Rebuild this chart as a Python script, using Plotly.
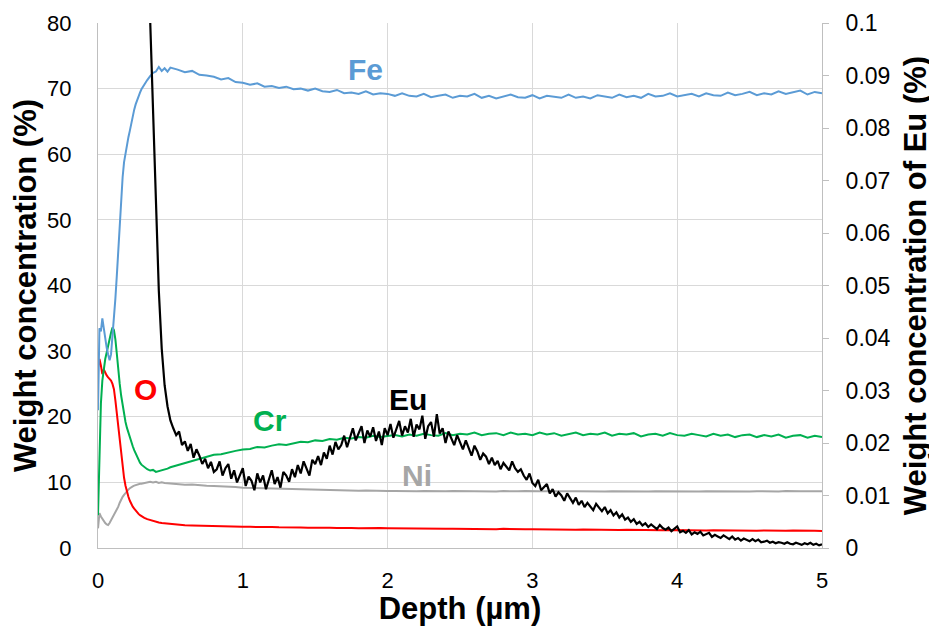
import numpy as np
import plotly.graph_objects as go

# ---- depth grids (µm) ----
depth = np.round(np.concatenate([
    np.arange(0.0, 0.305, 0.01),
    np.arange(0.32, 0.505, 0.02),
    np.arange(0.55, 5.001, 0.05),
]), 2)

# ---- Fe (wt%) ----
fe_head = [21.0, 33.5, 33.0, 35.0, 33.5, 31.6, 30.5, 29.5, 28.6, 29.5,
           32.0, 34.5, 38.0, 41.5, 45.5, 50.0, 53.5, 56.5, 58.8, 60.3,
           61.5, 62.6, 63.6, 64.8, 66.0, 66.8, 67.6, 68.3, 68.9, 69.4, 69.9,
           70.7, 71.3, 71.9, 72.4, 72.6, 73.3, 72.7, 73.1, 72.6, 73.2]
fe_tail = [72.9, 72.5, 72.7, 72.1, 72.0, 71.8, 71.4, 71.6, 71.0, 70.9,
           70.6, 70.8, 70.3, 70.4, 70.1, 70.3, 69.9, 70.0, 69.7, 70.0,
           69.6, 69.5, 69.8, 69.3, 69.4, 69.2, 69.6, 69.1, 69.3, 69.2,
           68.9, 69.3, 68.9, 68.8, 69.2, 68.7, 68.9, 69.1, 68.6, 68.9,
           68.8, 69.2, 68.6, 68.9, 68.5, 68.8, 69.1, 68.7, 68.6, 69.0,
           68.5, 68.9, 68.7, 68.6, 69.1, 68.6, 68.8, 68.5, 69.0, 68.8,
           68.6, 69.1, 68.7, 68.9, 68.6, 69.2, 68.8, 68.9, 69.3, 68.8,
           69.0, 69.2, 68.8, 69.3, 69.0, 68.9, 69.4, 69.0, 69.2, 69.5,
           69.0, 69.3, 69.1, 69.6, 69.2, 69.4, 69.7, 69.1, 69.5, 69.3]

# ---- Cr (wt%) ----
cr_head = [5.0, 15.0, 22.0, 25.5, 27.5, 28.8, 29.8, 30.6, 31.8, 32.8,
           33.6, 33.2, 31.8, 29.6, 27.0, 25.0, 23.2, 21.6, 20.3, 19.2,
           18.3, 17.5, 16.7, 16.1, 15.5, 14.9, 14.4, 13.9, 13.4, 13.0, 12.7,
           12.3, 12.0, 11.8, 11.9, 11.6, 11.7, 11.8, 12.0, 12.1, 12.3]
cr_tail = [12.6, 12.9, 13.2, 13.6, 13.8, 14.2, 14.3, 14.6, 14.8, 15.0,
           15.1, 15.4, 15.3, 15.6, 15.8, 15.7, 16.0, 16.2, 16.1, 16.4,
           16.3, 16.6, 16.5, 16.8, 16.7, 16.9, 16.8, 17.1, 16.9, 17.0,
           17.2, 17.0, 17.3, 17.1, 17.4, 17.2, 17.1, 17.5, 17.2, 17.4,
           17.3, 17.6, 17.2, 17.4, 17.5, 17.2, 17.6, 17.3, 17.4, 17.2,
           17.6, 17.3, 17.5, 17.1, 17.4, 17.6, 17.2, 17.4, 17.3, 17.6,
           17.1, 17.4, 17.3, 17.5, 17.0, 17.3, 17.4, 17.1, 17.5, 17.2,
           17.1, 17.4, 17.2, 17.0, 17.4, 17.1, 17.3, 16.9, 17.2, 17.3,
           16.9, 17.2, 17.0, 17.3, 16.8, 17.1, 17.2, 16.8, 17.1, 16.9]

# ---- O (wt%) ----
o_head = [27.5, 28.8, 27.8, 26.5, 27.2, 26.6, 26.3, 26.0, 25.8, 25.5,
          25.0, 24.2, 22.5, 20.5, 18.0, 15.8, 14.0, 12.2, 10.7, 9.5,
          8.5, 7.8, 7.2, 6.7, 6.3, 6.0, 5.7, 5.4, 5.2, 5.0, 4.85,
          4.6, 4.4, 4.25, 4.1, 4.0, 3.9, 3.8, 3.75, 3.7, 3.6]
o_tail = [3.5, 3.45, 3.42, 3.38, 3.4, 3.33, 3.3, 3.32, 3.26, 3.24,
          3.22, 3.25, 3.18, 3.2, 3.15, 3.17, 3.12, 3.14, 3.1, 3.12,
          3.07, 3.1, 3.05, 3.08, 3.04, 3.02, 3.06, 3.0, 3.03, 3.0,
          2.98, 3.02, 2.97, 2.96, 3.0, 2.94, 2.96, 2.92, 2.95, 2.93,
          2.9, 2.94, 2.89, 2.9, 2.87, 2.92, 2.86, 2.88, 2.85, 2.87,
          2.84, 2.82, 2.86, 2.8, 2.83, 2.79, 2.81, 2.78, 2.8, 2.76,
          2.79, 2.75, 2.77, 2.74, 2.76, 2.72, 2.75, 2.71, 2.73, 2.7,
          2.72, 2.68, 2.71, 2.67, 2.69, 2.66, 2.68, 2.64, 2.67, 2.65,
          2.63, 2.66, 2.62, 2.64, 2.61, 2.65, 2.6, 2.63, 2.61, 2.6]

# ---- Ni (wt%) ----
ni_head = [3.0, 5.3, 4.8, 4.4, 4.1, 3.8, 3.6, 3.5, 3.8, 4.2,
           4.6, 5.0, 5.5, 5.9, 6.3, 6.9, 7.4, 7.8, 8.1, 8.4,
           8.7, 8.9, 9.1, 9.3, 9.4, 9.5, 9.6, 9.7, 9.7, 9.8, 9.8,
           9.9, 10.0, 10.1, 10.0, 10.1, 9.9, 10.0, 9.9, 9.85, 9.8]
ni_tail = [9.75, 9.65, 9.68, 9.55, 9.5, 9.45, 9.42, 9.33, 9.3, 9.18,
           9.15, 9.08, 9.1, 9.0, 8.98, 8.95, 8.9, 8.93, 8.85, 8.82,
           8.86, 8.78, 8.8, 8.74, 8.77, 8.72, 8.75, 8.7, 8.73, 8.68,
           8.7, 8.66, 8.72, 8.65, 8.68, 8.64, 8.7, 8.63, 8.67, 8.65,
           8.62, 8.68, 8.64, 8.66, 8.61, 8.67, 8.63, 8.65, 8.69, 8.62,
           8.66, 8.64, 8.6, 8.67, 8.63, 8.65, 8.62, 8.68, 8.64, 8.61,
           8.66, 8.63, 8.67, 8.62, 8.65, 8.6, 8.66, 8.64, 8.62, 8.67,
           8.63, 8.65, 8.61, 8.66, 8.64, 8.62, 8.67, 8.63, 8.65, 8.6,
           8.66, 8.63, 8.65, 8.61, 8.67, 8.62, 8.64, 8.66, 8.62, 8.64]

# ---- Eu (wt%, right axis), depth from 0.34 µm in 0.02 µm steps ----
eu = [0.118, 0.100, 0.083, 0.065, 0.049, 0.038, 0.031, 0.027, 0.0243, 0.0228,
      0.0215, 0.0222, 0.0196, 0.0203, 0.0185, 0.0198, 0.0172, 0.0188, 0.0176, 0.0160,
      0.0170, 0.0152, 0.0164, 0.0145, 0.0150, 0.0165, 0.0138, 0.0152, 0.0160, 0.0132,
      0.0148, 0.0125, 0.0140, 0.0152, 0.0118, 0.0136, 0.0128, 0.0110, 0.0142, 0.0125,
      0.0138, 0.0112, 0.0130, 0.0148, 0.0122, 0.0135, 0.0115, 0.0145, 0.0138, 0.0126,
      0.0150, 0.0135, 0.0158, 0.0142, 0.0165, 0.0150, 0.0138, 0.0168, 0.0160, 0.0175,
      0.0158, 0.0182, 0.0170, 0.0195, 0.0178, 0.0202, 0.0188, 0.0196, 0.0214, 0.0192,
      0.0210, 0.0228, 0.0205, 0.0218, 0.0232, 0.0200, 0.0224, 0.0212, 0.0230, 0.0204,
      0.0222, 0.0196, 0.0228, 0.0215, 0.0236, 0.0210, 0.0226, 0.0242, 0.0214, 0.0232,
      0.0220, 0.0246, 0.0212, 0.0235, 0.0226, 0.0252, 0.0208, 0.0232, 0.0240, 0.0212,
      0.0255, 0.0218, 0.0228, 0.0200, 0.0222, 0.0210, 0.0196, 0.0215, 0.0202, 0.0188,
      0.0205, 0.0192, 0.0176, 0.0195, 0.0184, 0.0168, 0.0180, 0.0174, 0.0160, 0.0172,
      0.0158, 0.0166, 0.0150, 0.0162, 0.0155, 0.0148, 0.0165, 0.0152, 0.0145, 0.0150,
      0.0138, 0.0130, 0.0142, 0.0124, 0.0118, 0.0130, 0.0110, 0.0116, 0.0122, 0.0104,
      0.0112, 0.0098, 0.0106, 0.0100, 0.0090, 0.0104, 0.0094, 0.0086, 0.0096, 0.0082,
      0.0090, 0.0078, 0.0086, 0.0080, 0.0072, 0.0084, 0.0076, 0.0070, 0.0078, 0.0066,
      0.0072, 0.0062, 0.0068, 0.0058, 0.0064, 0.0054, 0.0058, 0.0050, 0.0055, 0.0046,
      0.0050, 0.0043, 0.0047, 0.0040, 0.0045, 0.0041, 0.0036, 0.0044, 0.0038, 0.0035,
      0.0039, 0.0032, 0.0036, 0.0041, 0.0030, 0.0033, 0.0029, 0.0034, 0.0026, 0.0030,
      0.0027, 0.0031, 0.0024, 0.0026, 0.0029, 0.0021, 0.0025, 0.0022, 0.0019, 0.0024,
      0.0020, 0.0017, 0.0022, 0.0016, 0.0019, 0.0014, 0.0018, 0.0015, 0.0013, 0.0017,
      0.0013, 0.0016, 0.0011, 0.0012, 0.0014, 0.0010, 0.0012, 0.0009, 0.0011, 0.0010,
      0.0008, 0.0011, 0.0008, 0.0007, 0.0010, 0.0008, 0.0006, 0.0009, 0.0007, 0.0010,
      0.0006, 0.0008, 0.0005, 0.0007]
depth_eu = np.round(0.34 + 0.02 * np.arange(len(eu)), 2)

# ---- ticks and labels ----
x_ticks = [0, 1, 2, 3, 4, 5]
y_ticks = [0, 10, 20, 30, 40, 50, 60, 70, 80]
y2_ticks = [0, 0.01, 0.02, 0.03, 0.04, 0.05, 0.06, 0.07, 0.08, 0.09, 0.1]
y2_text = ["0", "0.01", "0.02", "0.03", "0.04", "0.05", "0.06", "0.07", "0.08", "0.09", "0.1"]

labels = [("Fe", 1.85, 72.9, "#5B9BD5"),
          ("Cr", 1.19, 19.4, "#00B050"),
          ("O", 0.33, 24.2, "#FF0000"),
          ("Eu", 2.14, 22.6, "#000000"),
          ("Ni", 2.20, 11.0, "#A6A6A6")]

FONT = "Liberation Sans, Arial, sans-serif"
GRID = "#D9D9D9"
AXIS = "#BFBFBF"

fig = go.Figure()
series = [
    ("Ni", ni_head + ni_tail, "#A6A6A6", 2),
    ("O", o_head + o_tail, "#FF0000", 2),
    ("Cr", cr_head + cr_tail, "#00B050", 2),
    ("Fe", fe_head + fe_tail, "#5B9BD5", 2),
]
for name, vals, color, w in series:
    fig.add_trace(go.Scatter(x=depth, y=vals, mode="lines", name=name,
                             line=dict(color=color, width=w), showlegend=False))
fig.add_trace(go.Scatter(x=depth_eu, y=eu, mode="lines", name="Eu", yaxis="y2",
                         line=dict(color="#000000", width=2.2), showlegend=False))

for text, x, y, color in labels:
    fig.add_annotation(x=x, y=y, xref="x", yref="y", text=f"<b>{text}</b>",
                       showarrow=False, font=dict(family=FONT, size=30, color=color))

# page body has an 8 px default margin: the figure is sized to fill the rest of the window
fig.update_layout(
    width=929, height=618,
    margin=dict(l=90, r=115, t=15, b=78, autoexpand=False),
    paper_bgcolor="white", plot_bgcolor="white",
    font=dict(family=FONT, color="black"),
    xaxis=dict(range=[0, 5], tickvals=x_ticks, showgrid=True, gridcolor=GRID, gridwidth=1,
               zeroline=False, showline=True, linecolor=AXIS, linewidth=1, automargin=False,
               ticks="", tickfont=dict(size=22, family=FONT, color="black"),
               ticklabelstandoff=13,
               title=dict(text="<b>Depth (µm)</b>", font=dict(size=31, family=FONT, color="black"),
                          standoff=4)),
    yaxis=dict(range=[0, 80], tickvals=y_ticks, showgrid=True, gridcolor=GRID, gridwidth=1,
               zeroline=False, showline=True, linecolor=AXIS, linewidth=1, automargin=False,
               ticks="", tickfont=dict(size=22, family=FONT, color="black"),
               ticklabelstandoff=21,
               title=dict(text="<b>Weight concentration (%)</b>",
                          font=dict(size=31, family=FONT, color="black"), standoff=4)),
    yaxis2=dict(range=[0, 0.1], overlaying="y", side="right", tickvals=y2_ticks, ticktext=y2_text,
                showgrid=False, zeroline=False, showline=True, linecolor=AXIS, linewidth=1,
                automargin=False,
                ticks="outside", ticklen=6, tickcolor=AXIS,
                tickfont=dict(size=23, family=FONT, color="black"),
                ticklabelstandoff=12,
                title=dict(text="<b>Weight concentration of Eu (%)</b>",
                           font=dict(size=31, family=FONT, color="black"), standoff=14)),
)

fig.write_html("out.html")
